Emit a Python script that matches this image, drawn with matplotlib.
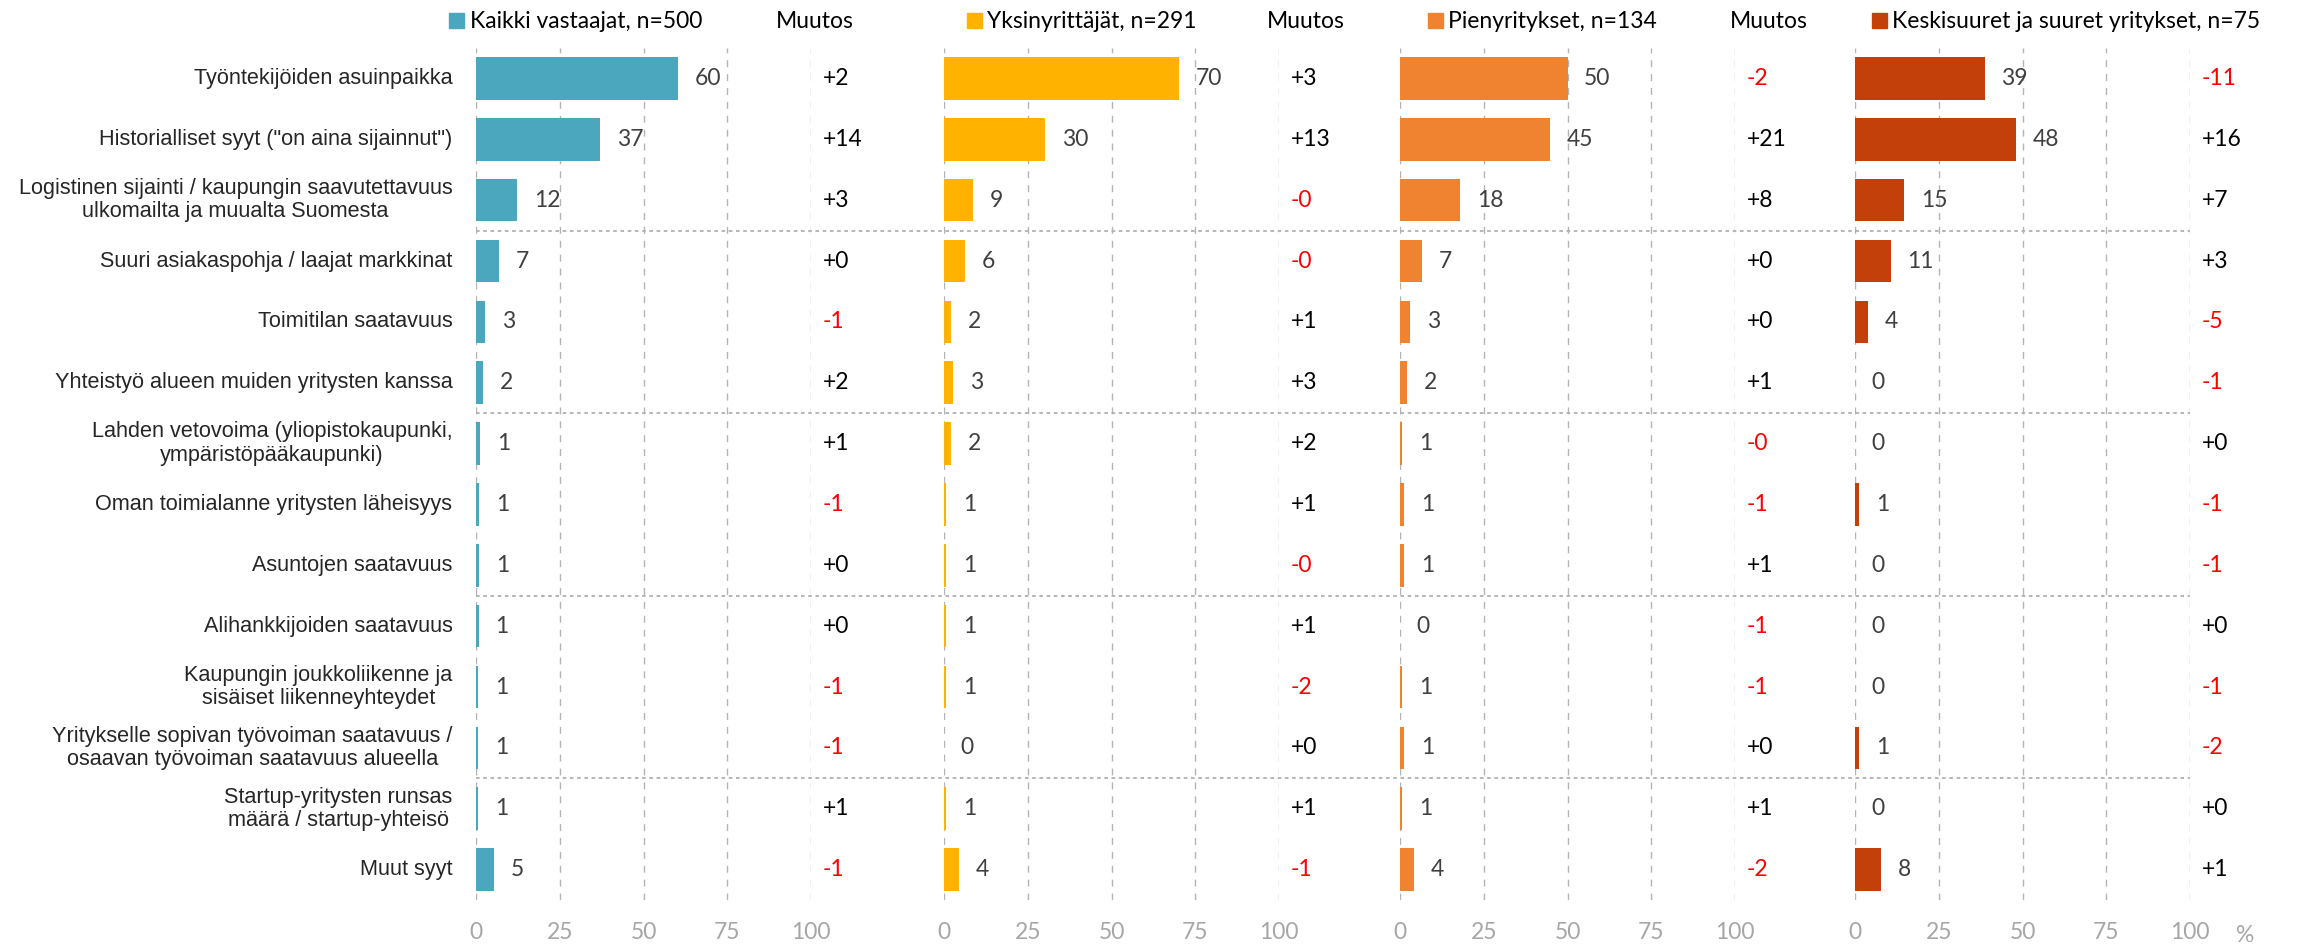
import matplotlib
matplotlib.use('Agg')
import matplotlib.pyplot as plt
import matplotlib.transforms as mtransforms
from matplotlib.patches import Patch
from matplotlib.lines import Line2D

# reasons, top to bottom
categories = [
    'Työntekijöiden asuinpaikka',
    'Historialliset syyt ("on aina sijainnut")',
    'Logistinen sijainti / kaupungin saavutettavuus\nulkomailta ja muualta Suomesta',
    'Suuri asiakaspohja / laajat markkinat',
    'Toimitilan saatavuus',
    'Yhteistyö alueen muiden yritysten kanssa',
    'Lahden vetovoima (yliopistokaupunki,\nympäristöpääkaupunki)',
    'Oman toimialanne yritysten läheisyys',
    'Asuntojen saatavuus',
    'Alihankkijoiden saatavuus',
    'Kaupungin joukkoliikenne ja\nsisäiset liikenneyhteydet',
    'Yritykselle sopivan työvoiman saatavuus /\nosaavan työvoiman saatavuus alueella',
    'Startup-yritysten runsas\nmäärä / startup-yhteisö',
    'Muut syyt',
]

groups = ['Kaikki vastaajat, n=500', 'Yksinyrittäjät, n=291',
          'Pienyritykset, n=134', 'Keskisuuret ja suuret yritykset, n=75']
colors = ['#4BA7BE', '#FFB300', '#F0832F', '#C4400A']

# shares (%)
kaikki = [60.2, 37.1, 12.3, 7.0, 2.8, 2.2, 1.2, 0.9, 0.9, 0.8, 0.7, 0.7, 0.6, 5.3]
yksin = [70.1, 30.2, 8.8, 6.2, 2.2, 2.8, 2.1, 0.6, 0.6, 0.7, 0.6, 0.0, 0.6, 4.4]
pien = [50.0, 44.8, 17.9, 6.7, 3.0, 2.2, 0.6, 1.3, 1.3, 0.0, 0.7, 1.3, 0.6, 4.2]
keski = [38.7, 48.0, 14.7, 10.7, 4.0, 0.0, 0.0, 1.3, 0.0, 0.0, 0.0, 1.3, 0.0, 7.9]

# change (percentage points), "-0" = small negative
kaikki_chg = [2, 14, 3, 0, -1, 2, 1, -1, 0, 0, -1, -1, 1, -1]
yksin_chg = [3, 13, -0.2, -0.2, 1, 3, 2, 1, -0.2, 1, -2, 0, 1, -1]
pien_chg = [-2, 21, 8, 0, 0, 1, -0.2, -1, 1, -1, -1, 0, 1, -2]
keski_chg = [-11, 16, 7, 3, -5, -1, 0, -1, -1, 0, -1, -2, 0, 1]

values = [kaikki, yksin, pien, keski]
changes = [kaikki_chg, yksin_chg, pien_chg, keski_chg]

group_starts = [3, 6, 9, 12]

label_font = 'Liberation Sans'
num_font = ['Lato', 'DejaVu Sans']
fs = 16.5

W, H = 2303, 950
fig = plt.figure(figsize=(W / 100, H / 100), dpi=100)

ax_left = [476, 944, 1400, 1855]
ax_w = 335
top, bottom = 48, 900

legend_x = [-0.08, 0.068, 0.083, 0.05]
muutos_x = [101, 108, 110, None]

axes = []
for i in range(4):
    ax = fig.add_axes([ax_left[i] / W, 1 - bottom / H, ax_w / W, (bottom - top) / H])
    ax.set_facecolor('none')
    axes.append(ax)
    y = range(len(categories))
    ax.barh(y, values[i], height=0.7, color=colors[i], zorder=2)
    ax.set_xlim(0, 100)
    ax.set_ylim(len(categories) - 0.5, -0.5)
    ax.set_xticks([0, 25, 50, 75, 100])
    ax.set_yticks([])
    ax.grid(axis='x', linestyle=(0, (5, 5)), color='#b4b4b4', lw=1)
    ax.set_axisbelow(True)
    for s in ax.spines.values():
        s.set_visible(False)
    ax.tick_params(axis='x', length=0, pad=16, labelsize=fs, labelcolor='#a6a6a6')
    for lab in ax.get_xticklabels():
        lab.set_family(num_font)

    for j, v in enumerate(values[i]):
        ax.annotate(f'{v:.0f}', xy=(v, j), xytext=(12, 0), textcoords='offset points',
                    ha='left', va='center', fontsize=fs, color='#404040', family=num_font)
        c = changes[i][j]
        ax.text(103.5, j, f'{c:+.0f}', ha='left', va='center', fontsize=fs,
                color='#ff0000' if c < 0 else 'black', family=num_font, clip_on=False)

    leg = ax.legend(handles=[Patch(color=colors[i])], labels=[groups[i]], loc='center left',
                    bbox_to_anchor=(legend_x[i], 1 + 26 / (bottom - top)), frameon=False,
                    handlelength=0.65, handleheight=0.65, handletextpad=0.25,
                    borderpad=0, borderaxespad=0, prop={'family': num_font, 'size': fs})
    if muutos_x[i] is not None:
        tr = mtransforms.blended_transform_factory(ax.transData, ax.transAxes)
        ax.text(muutos_x[i], 1 + 26 / (bottom - top), 'Muutos', transform=tr, ha='center',
                va='center', fontsize=fs, family=num_font, clip_on=False)

# category labels
for j, cat in enumerate(categories):
    axes[0].annotate(cat, xy=(0, j), xytext=(-17, 0), textcoords='offset points',
                     ha='right', va='center', multialignment='center',
                     fontsize=15.6, family=label_font, color='#262626', linespacing=1.15)

# percent sign
tr = mtransforms.blended_transform_factory(axes[3].transData, axes[3].transAxes)
axes[3].text(116.5, -36 / (bottom - top), '%', transform=tr, ha='center', va='center',
             fontsize=fs, color='#a6a6a6', family=num_font, clip_on=False)

# dotted separators between groups of rows
x0 = ax_left[0] / W
x1 = (ax_left[3] + ax_w) / W
sep_tr = mtransforms.blended_transform_factory(fig.transFigure, axes[0].transData)
for g in group_starts:
    fig.add_artist(Line2D([x0, x1], [g - 0.5, g - 0.5], transform=sep_tr,
                          color='#b0b0b0', lw=1.3, linestyle=(0, (2, 2)), zorder=5))

fig.savefig('out.png', dpi=100, facecolor='white')
